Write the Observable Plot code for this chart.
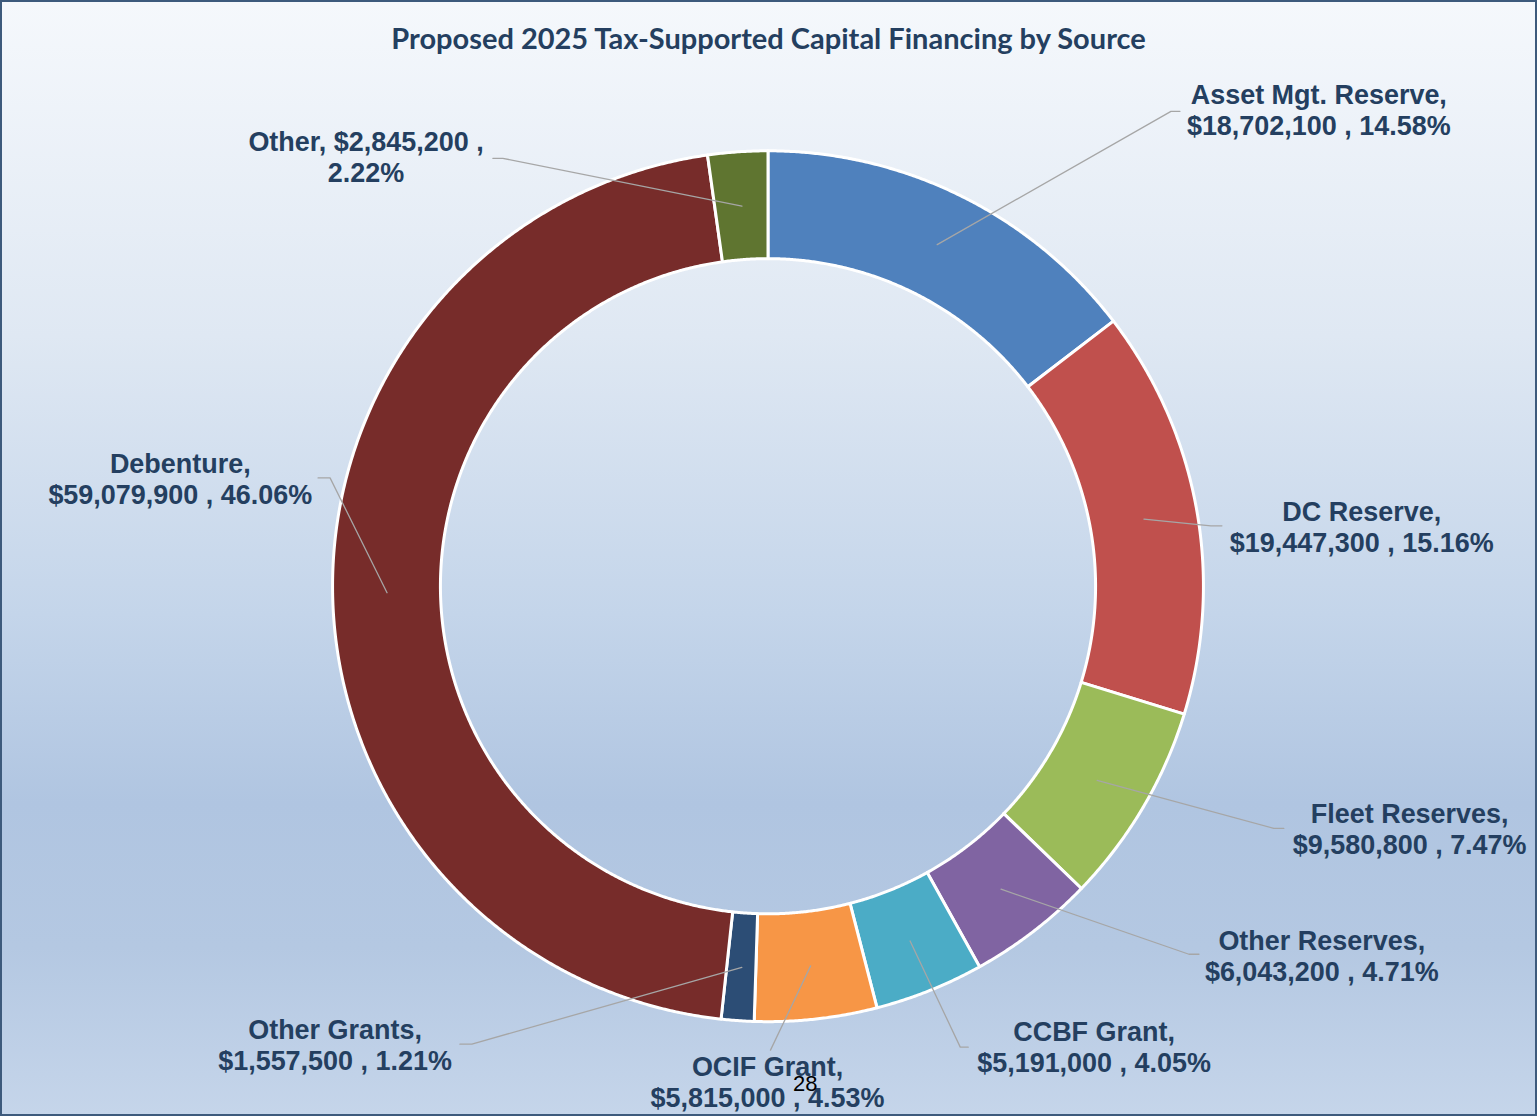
<!DOCTYPE html>
<html>
<head>
<meta charset="utf-8">
<script src="https://cdn.jsdelivr.net/npm/d3@7"></script>
<script src="https://cdn.jsdelivr.net/npm/@observablehq/plot@0.6"></script>
<style>
  html, body { margin: 0; padding: 0; }
  #frame {
    position: relative; width: 1537px; height: 1116px; box-sizing: border-box;
    border: 2px solid #3d5a7c; overflow: hidden;
    background: linear-gradient(180deg, #f5f8fc 0%, #dfe8f3 30%, #c4d5ea 55%, #b0c5e1 72%, #b4c8e2 85%, #c5d5ea 100%);
  }
  #title {
    position: absolute; top: 19px; left: -2px; width: 1537px; text-align: center;
    font: 700 29px/34px Lato, "Open Sans", sans-serif; color: #243f60;
  }
  #chart { position: absolute; left: -2px; top: -2px; }
  #page { position: absolute; left: 791px; top: 1069px; font: 400 22px/26px "Liberation Sans", Arial, sans-serif; color: #000; }
</style>
</head>
<body>
<div id="frame">
  <div id="chart"></div>
  <div id="title">Proposed 2025 Tax-Supported Capital Financing by Source</div>
  <div id="page">28</div>
</div>
<script>
// ---- data ----
const categories = ["Asset Mgt. Reserve", "DC Reserve", "Fleet Reserves", "Other Reserves", "CCBF Grant", "OCIF Grant", "Other Grants", "Debenture", "Other"];
const amounts = [18702100, 19447300, 9580800, 6043200, 5191000, 5815000, 1557500, 59079900, 2845200];
const colors = ["#4f81bd", "#c0504d", "#9bbb59", "#8064a2", "#4bacc6", "#f79646", "#2c4d75", "#772c2a", "#5f7530"];

// ---- layout (page pixels): label centre, leader elbow, leader stub end, wrap style ----
const labelLayout = [
  {lx: 1320, ly: 95,   ex: 1172, ey: 111,  sx: 1181, sy: 111,  wrap: "name"},
  {lx: 1363, ly: 512,  ex: 1212, ey: 526,  sx: 1223, sy: 526,  wrap: "name"},
  {lx: 1411, ly: 815,  ex: 1275, ey: 829,  sx: 1285, sy: 829,  wrap: "name"},
  {lx: 1323, ly: 942,  ex: 1190, ey: 955,  sx: 1200, sy: 955,  wrap: "name"},
  {lx: 1095, ly: 1033, ex: 961,  ey: 1048, sx: 969,  sy: 1048, wrap: "name"},
  {lx: 768,  ly: 1068, ex: 771,  ey: 1051, sx: 771,  sy: 1051, wrap: "name"},
  {lx: 335,  ly: 1031, ex: 472,  ey: 1045, sx: 460,  sy: 1045, wrap: "name"},
  {lx: 180,  ly: 464,  ex: 330,  ey: 478,  sx: 318,  sy: 478,  wrap: "name"},
  {lx: 366,  ly: 142,  ex: 503,  ey: 158,  sx: 493,  sy: 158,  wrap: "value"}
];

const W = 1537, H = 1116, CX = 769, CY = 587;
const R_OUT = 436, R_IN = 328, R_MID = (R_OUT + R_IN) / 2;

const total = d3.sum(amounts);
const fmt = d3.format(",");
let acc = 0;
const slices = categories.map((name, i) => {
  const a0 = acc / total * 2 * Math.PI;
  acc += amounts[i];
  const a1 = acc / total * 2 * Math.PI;
  return {name, value: amounts[i], a0, a1, mid: (a0 + a1) / 2, pct: (amounts[i] / total * 100).toFixed(2)};
});

// ring polygons
const ring = [];
for (const s of slices) {
  const n = Math.max(4, Math.ceil((s.a1 - s.a0) / (Math.PI / 720)));
  for (let k = 0; k <= n; k++) {
    const a = s.a0 + (s.a1 - s.a0) * k / n;
    ring.push({key: s.name, ox: R_OUT * Math.sin(a), oy: -R_OUT * Math.cos(a), ix: R_IN * Math.sin(a), iy: -R_IN * Math.cos(a)});
  }
}

// leader lines
const leaders = [];
slices.forEach((s, i) => {
  const L = labelLayout[i];
  leaders.push({key: s.name, x: R_MID * Math.sin(s.mid), y: -R_MID * Math.cos(s.mid)});
  leaders.push({key: s.name, x: L.ex - CX, y: L.ey - CY});
  leaders.push({key: s.name, x: L.sx - CX, y: L.sy - CY});
});

// labels
const labels = slices.map((s, i) => {
  const L = labelLayout[i];
  const v = "$" + fmt(s.value);
  const text = L.wrap === "value"
    ? `${s.name}, ${v} ,\n${s.pct}%`
    : `${s.name},\n${v} , ${s.pct}%`;
  return {text, x: L.lx - CX, y: L.ly - CY - 13};
});

const chart = Plot.plot({
  width: W, height: H, margin: 0,
  x: {axis: null, domain: [-CX, W - CX], range: [0, W]},
  y: {axis: null, domain: [-CY, H - CY], range: [0, H]},
  color: {domain: categories, range: colors},
  style: {background: "transparent", overflow: "visible"},
  marks: [
    Plot.area(ring, {x1: "ox", y1: "oy", x2: "ix", y2: "iy", fill: "key", z: "key", stroke: "white", strokeWidth: 3, curve: "linear"}),
    Plot.line(leaders, {x: "x", y: "y", z: "key", stroke: "#a6a6a6", strokeWidth: 1.3, curve: "linear"}),
    Plot.text(labels, {x: "x", y: "y", text: "text", fill: "#243f60", fontSize: 27, fontWeight: "bold",
      fontFamily: "'Liberation Sans', Arial, sans-serif", lineHeight: 1.15, lineAnchor: "top", textAnchor: "middle"})
  ]
});
document.getElementById("chart").appendChild(chart);
</script>
</body>
</html>
